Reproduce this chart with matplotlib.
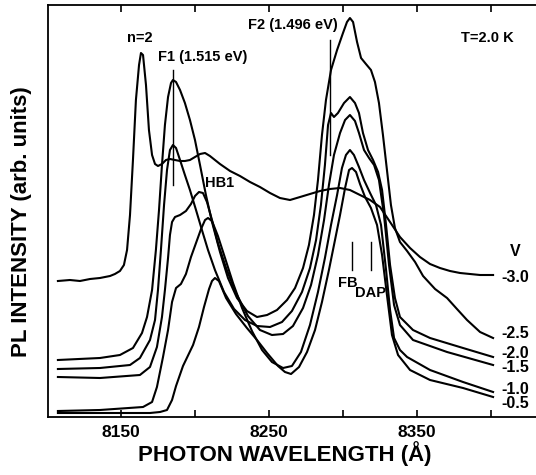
import matplotlib
matplotlib.use("Agg")
import matplotlib.pyplot as plt

plt.rcParams["font.family"] = ["Liberation Sans", "DejaVu Sans"]
plt.rcParams["font.weight"] = "bold"

# photoluminescence spectra, wavelength (A) vs intensity (arb. units)
wl_m30 = [8107.4, 8115.5, 8122.3, 8129.1, 8135.8, 8142.6, 8145.9, 8149.3, 8152.0, 8154.1,
          8156.1, 8158.1, 8160.1, 8162.2, 8163.5, 8164.9, 8166.9, 8168.9, 8171.0, 8173.0,
          8175.0, 8177.7, 8180.4, 8183.1, 8186.5, 8189.9, 8193.2, 8196.6, 8200.0, 8203.4,
          8206.8, 8210.1, 8213.5, 8216.9, 8223.7, 8230.4, 8237.2, 8243.9, 8250.7, 8257.4,
          8264.2, 8271.0, 8277.7, 8284.5, 8291.2, 8298.0, 8304.7, 8311.5, 8318.3, 8325.0,
          8331.8, 8338.5, 8345.3, 8352.0, 8358.8, 8365.5, 8372.3, 8379.1, 8385.8, 8392.6,
          8401.4]
pl_m30 = [136, 137, 136, 138, 139, 141, 143, 146, 152, 167,
          202, 257, 317, 352, 364, 362, 332, 287, 262, 253,
          251, 253, 257, 258, 257, 256, 256, 257, 260, 263,
          264, 261, 257, 253, 246, 241, 235, 230, 224, 219,
          217, 220, 223, 226, 228, 229, 227, 222, 217, 210,
          195, 180, 169, 160, 153, 149, 146, 144, 143, 142,
          142]

wl_m25 = [8107.4, 8135.8, 8149.3, 8158.1, 8164.2, 8167.6, 8171.0, 8173.6, 8175.7, 8177.7,
          8179.7, 8181.8, 8183.8, 8185.1, 8187.2, 8189.9, 8193.2, 8196.6, 8200.0, 8203.4,
          8207.4, 8211.5, 8216.9, 8222.3, 8228.4, 8235.1, 8241.9, 8248.7, 8255.4, 8262.2,
          8267.6, 8273.0, 8277.0, 8280.4, 8283.1, 8285.8, 8288.5, 8291.9, 8296.0, 8300.0,
          8302.7, 8304.7, 8306.8, 8309.5, 8312.2, 8315.5, 8318.9, 8321.6, 8324.3, 8327.0,
          8329.7, 8332.4, 8335.1, 8338.5, 8343.3, 8348.7, 8354.1, 8362.2, 8370.3, 8377.0,
          8383.8, 8392.6, 8401.4]
pl_m25 = [57, 59, 62, 69, 84, 100, 127, 167, 207, 252,
          292, 320, 334, 337, 335, 327, 314, 297, 277, 252,
          222, 195, 165, 139, 119, 106, 100, 102, 107, 117,
          129, 149, 172, 202, 237, 282, 317, 347, 367, 384,
          395, 399, 395, 375, 359, 353, 347, 335, 314, 282,
          247, 212, 189, 175, 166, 155, 141, 128, 119, 108,
          97, 85, 79]

wl_m20 = [8107.4, 8135.8, 8156.1, 8162.8, 8169.6, 8173.0, 8175.0, 8177.0, 8179.1, 8181.1,
          8183.1, 8185.1, 8187.2, 8189.9, 8193.2, 8196.6, 8200.7, 8204.7, 8208.8, 8213.5,
          8219.6, 8226.4, 8233.8, 8241.9, 8250.7, 8258.8, 8265.5, 8272.3, 8277.7, 8281.8,
          8285.1, 8287.8, 8289.9, 8291.9, 8293.9, 8296.6, 8300.7, 8304.7, 8308.1, 8310.8,
          8313.5, 8316.9, 8320.3, 8323.7, 8326.4, 8329.1, 8331.8, 8335.1, 8338.5, 8347.3,
          8358.8, 8381.1, 8401.4]
pl_m20 = [48, 49, 52, 59, 77, 97, 127, 167, 212, 247,
          267, 272, 269, 257, 242, 227, 207, 187, 167, 147,
          125, 108, 97, 91, 90, 95, 106, 125, 149, 177,
          212, 252, 292, 304, 300, 304, 314, 320, 314, 304,
          284, 267, 257, 245, 227, 192, 152, 119, 100, 87,
          79, 69, 60]

wl_m15 = [8107.4, 8135.8, 8162.8, 8169.6, 8174.3, 8177.7, 8179.7, 8181.8, 8183.1, 8184.5,
          8186.5, 8189.9, 8193.9, 8197.3, 8200.0, 8202.7, 8205.4, 8208.1, 8211.5, 8215.5,
          8221.0, 8227.7, 8235.8, 8243.9, 8252.0, 8259.5, 8266.2, 8273.0, 8278.4, 8283.1,
          8287.2, 8290.5, 8293.9, 8298.0, 8301.4, 8304.7, 8308.1, 8310.8, 8314.2, 8317.6,
          8321.0, 8324.3, 8327.7, 8331.1, 8334.5, 8338.5, 8347.3, 8370.3, 8401.4]
pl_m15 = [40, 39, 42, 50, 70, 100, 127, 159, 182, 195,
          200, 202, 206, 213, 221, 225, 224, 215, 197, 174,
          149, 124, 101, 87, 82, 83, 91, 109, 132, 162,
          197, 232, 262, 284, 297, 302, 296, 284, 267, 259,
          252, 237, 202, 152, 112, 92, 77, 65, 52]

wl_m10 = [8107.4, 8135.8, 8164.9, 8171.0, 8174.3, 8178.4, 8181.8, 8184.5, 8187.2, 8190.5,
          8193.9, 8197.3, 8200.7, 8204.1, 8206.8, 8208.8, 8211.5, 8215.5, 8220.3, 8225.7,
          8231.8, 8238.5, 8245.3, 8252.0, 8259.5, 8265.5, 8271.6, 8277.7, 8283.1, 8287.8,
          8291.9, 8296.0, 8299.3, 8302.0, 8304.7, 8307.4, 8310.8, 8314.2, 8318.3, 8322.3,
          8325.7, 8329.1, 8331.8, 8334.5, 8338.5, 8343.3, 8358.8, 8381.1, 8401.4]
pl_m10 = [6, 7, 10, 15, 30, 60, 87, 115, 129, 133,
          143, 160, 174, 188, 197, 199, 196, 181, 159, 134,
          109, 86, 67, 55, 49, 51, 65, 92, 125, 159,
          192, 222, 249, 262, 267, 262, 250, 237, 224, 212,
          192, 147, 107, 79, 67, 60, 47, 35, 25]

wl_m05 = [8107.4, 8135.8, 8169.6, 8176.4, 8181.1, 8184.5, 8187.2, 8191.9, 8198.7, 8202.7,
          8206.1, 8209.5, 8211.5, 8213.5, 8216.2, 8221.0, 8227.7, 8235.1, 8241.9, 8248.7,
          8256.1, 8260.8, 8264.9, 8270.3, 8275.7, 8281.1, 8285.8, 8290.5, 8294.6, 8298.0,
          8301.4, 8304.1, 8306.1, 8308.8, 8311.5, 8314.9, 8318.9, 8323.0, 8326.4, 8329.7,
          8333.1, 8337.2, 8345.3, 8358.8, 8381.1, 8401.4]
pl_m05 = [4, 4, 4, 5, 7, 17, 31, 51, 72, 90,
          110, 128, 136, 139, 136, 119, 103, 89, 77, 64,
          51, 45, 43, 50, 65, 87, 115, 147, 177, 202,
          229, 247, 249, 245, 233, 220, 209, 192, 162, 122,
          82, 62, 47, 37, 29, 20]

curves = [(wl_m30, pl_m30), (wl_m25, pl_m25), (wl_m20, pl_m20),
          (wl_m15, pl_m15), (wl_m10, pl_m10), (wl_m05, pl_m05)]

bias_labels = ["-3.0", "-2.5", "-2.0", "-1.5", "-1.0", "-0.5"]
bias_label_pl = [139, 84, 64, 49, 28, 13]

# marker lines: (wavelength, bottom, top)
markers = [(8185.1, 232, 347), (8291.2, 262, 377), (8306.1, 147, 175), (8318.9, 147, 175)]

fig = plt.figure(figsize=(5.36, 4.75), dpi=100)
ax = fig.add_axes([48 / 536, 58 / 475, 488 / 536, 412 / 475])

for wl, pl in curves:
    ax.plot(wl, pl, color="black", lw=1.5, solid_joinstyle="round")

for wl, lo, hi in markers:
    ax.plot([wl, wl], [lo, hi], color="black", lw=1.0)

ax.set_xlim(8100.7, 8430.4)
ax.set_ylim(0, 412)

ax.text(8162.8, 379, "n=2", ha="center", va="center", fontsize=10.5, fontweight="bold")
ax.text(8205.4, 360, "F1 (1.515 eV)", ha="center", va="center", fontsize=10.5, fontweight="bold")
ax.text(8266.2, 392, "F2 (1.496 eV)", ha="center", va="center", fontsize=10.5, fontweight="bold")
ax.text(8397.3, 379, "T=2.0 K", ha="center", va="center", fontsize=10.5, fontweight="bold")
ax.text(8216.9, 234, "HB1", ha="center", va="center", fontsize=10.5, fontweight="bold")
ax.text(8303.4, 134, "FB", ha="center", va="center", fontsize=10.5, fontweight="bold")
ax.text(8318.3, 124, "DAP", ha="center", va="center", fontsize=10.5, fontweight="bold")
ax.text(8416.2, 165, "V", ha="center", va="center", fontsize=11.5, fontweight="bold")
for lab, y in zip(bias_labels, bias_label_pl):
    ax.text(8416.2, y, lab, ha="center", va="center", fontsize=11.5, fontweight="bold")

ticks = [8150, 8200, 8250, 8300, 8350, 8400]
ax.set_xticks(ticks)
ax.set_xticklabels(["8150", "", "8250", "", "8350", ""], fontsize=12.5, fontweight="bold")
ax.set_yticks([])
ax.tick_params(axis="x", direction="in", length=5, width=1.2, top=True, pad=6)
ax.spines["right"].set_visible(False)
for s in ["left", "bottom", "top"]:
    ax.spines[s].set_linewidth(1.3)

fig.text(285 / 536, 1 - 454 / 475, "PHOTON WAVELENGTH (Å)", ha="center", va="center",
         fontsize=16, fontweight="bold")
fig.text(22 / 536, 1 - 222 / 475, "PL INTENSITY (arb. units)", ha="center", va="center",
         rotation=90, fontsize=16, fontweight="bold")

fig.savefig("out.png", dpi=100)
